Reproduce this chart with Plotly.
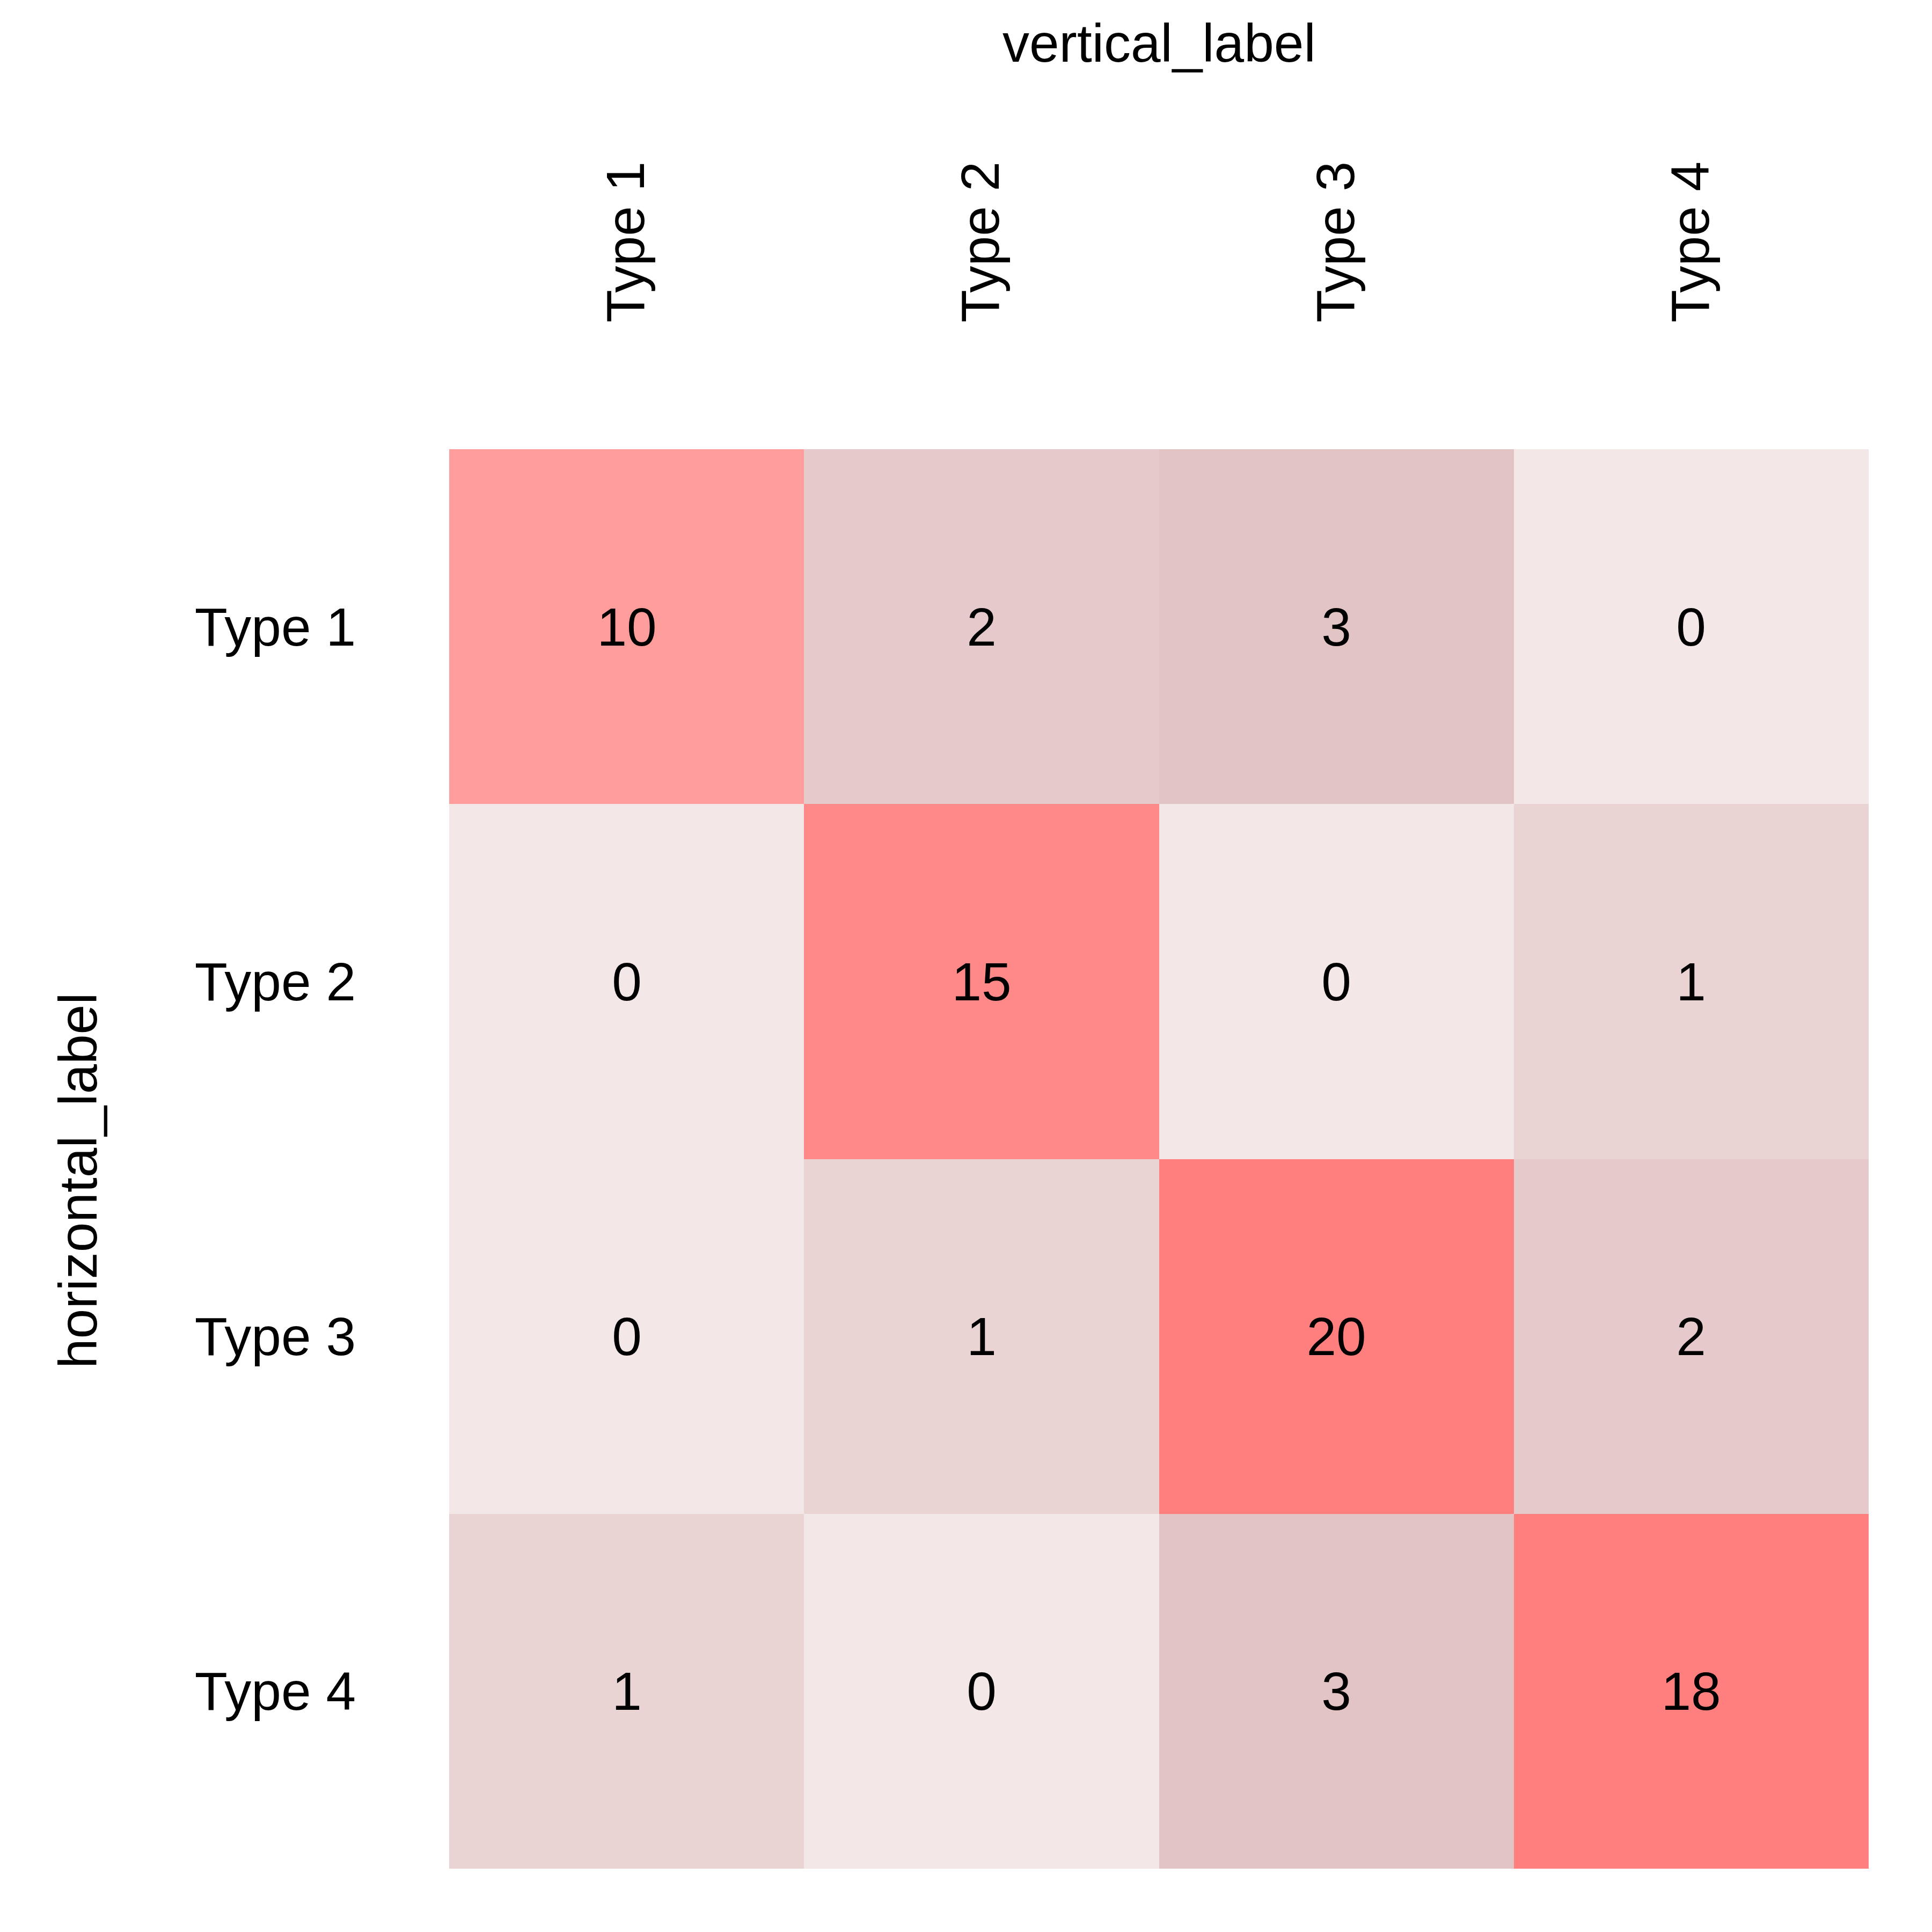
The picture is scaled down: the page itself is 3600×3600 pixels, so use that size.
import numpy as np
import plotly.graph_objects as go

col_labels = ["Type 1", "Type 2", "Type 3", "Type 4"]
row_labels = ["Type 1", "Type 2", "Type 3", "Type 4"]
counts = [
    [10, 2, 3, 0],
    [0, 15, 0, 1],
    [0, 1, 20, 2],
    [1, 0, 3, 18],
]
x_title = "vertical_label"
y_title = "horizontal_label"

z = np.array(counts, dtype=float)
diag_mask = np.eye(len(row_labels), dtype=bool)
z_diag = np.where(diag_mask, z, np.nan)
z_off = np.where(diag_mask, np.nan, z)

def to_list(a):
    return [[None if np.isnan(v) else v for v in row] for row in a]

FONT = "Liberation Sans, Arial, sans-serif"
FS = 100

fig = go.Figure()
fig.add_trace(go.Heatmap(
    z=to_list(z_off), x=col_labels, y=row_labels,
    zmin=0, zmax=3,
    colorscale=[[0, "#F4E7E7"], [1/3, "#EAD3D3"], [2/3, "#E6CACB"], [1, "#E3C4C4"]],
    showscale=False, texttemplate="%{z}",
    textfont=dict(family=FONT, size=FS, color="black"),
    hoverongaps=False,
))
fig.add_trace(go.Heatmap(
    z=to_list(z_diag), x=col_labels, y=row_labels,
    zmin=10, zmax=20,
    colorscale=[[0, "#FF9C9C"], [0.5, "#FF8989"], [0.8, "#FF7F7F"], [1, "#FF7F7F"]],
    showscale=False, texttemplate="%{z}",
    textfont=dict(family=FONT, size=FS, color="black"),
    hoverongaps=False,
))

fig.update_layout(
    width=3600, height=3600,
    margin=dict(l=829, r=126, t=829, b=126, pad=0),
    paper_bgcolor="white", plot_bgcolor="white",
    font=dict(family=FONT, size=FS, color="black"),
    xaxis=dict(side="top", tickangle=-90, ticks="outside", ticklen=215,
               tickcolor="rgba(0,0,0,0)", showgrid=False, zeroline=False,
               showline=False, tickfont=dict(size=FS)),
    yaxis=dict(autorange="reversed", ticks="outside", ticklen=153,
               tickcolor="rgba(0,0,0,0)", showgrid=False, zeroline=False,
               showline=False, tickfont=dict(size=FS)),
    annotations=[
        dict(text=x_title, xref="paper", yref="paper", x=0.5, y=1.2862,
             xanchor="center", yanchor="middle", showarrow=False,
             font=dict(family=FONT, size=FS, color="black")),
        dict(text=y_title, xref="paper", yref="paper", x=-0.2616, y=0.4847,
             xanchor="center", yanchor="middle", textangle=-90, showarrow=False,
             font=dict(family=FONT, size=FS, color="black")),
    ],
)

fig.write_html("out.html")
